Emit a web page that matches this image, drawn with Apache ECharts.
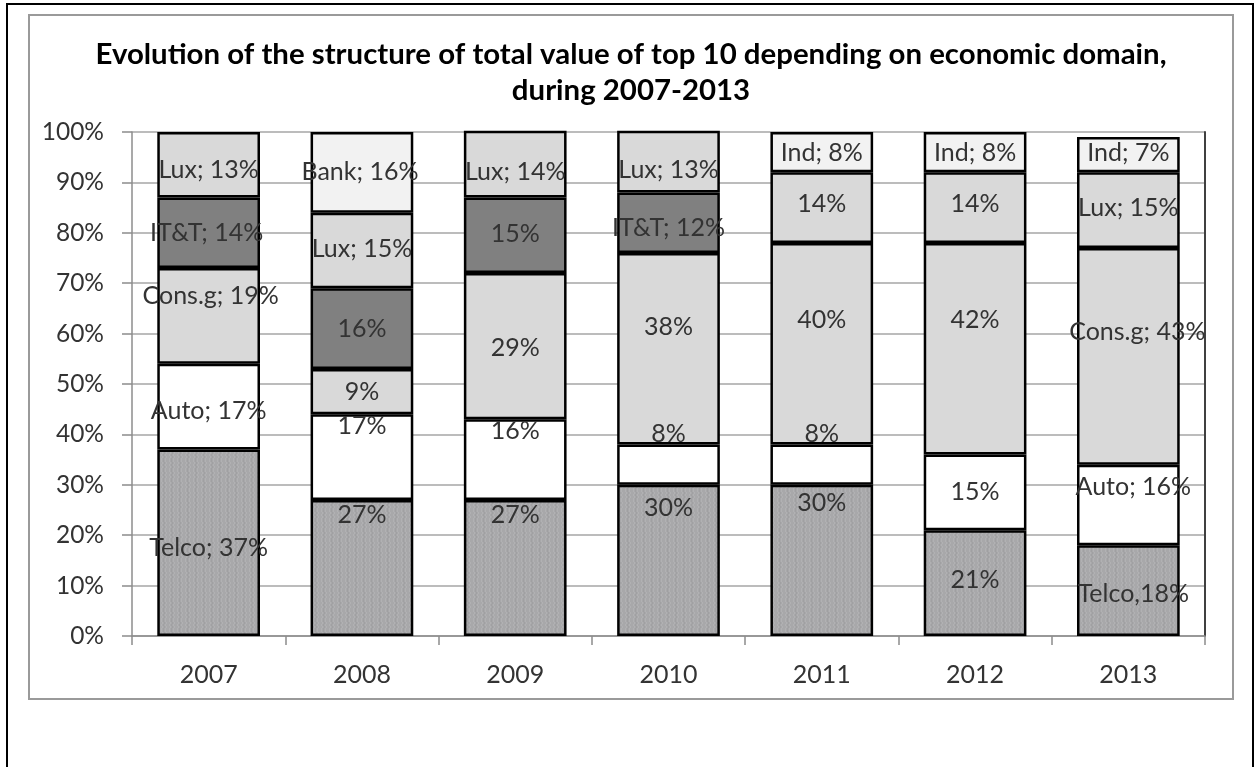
<!DOCTYPE html>
<html>
<head>
<meta charset="utf-8">
<title>Top 10 value structure by economic domain, 2007-2013</title>
<script src="https://cdn.jsdelivr.net/npm/echarts@6/dist/echarts.min.js"></script>
<style>
  html, body { margin: 0; padding: 0; background: #ffffff; }
  #chart { width: 1255px; height: 767px; }
</style>
</head>
<body>
<div id="chart"></div>
<script>
// ---- data (share of total value, %) ----
const years = ['2007', '2008', '2009', '2010', '2011', '2012', '2013'];

const telco = [37, 27, 27, 30, 30, 21, 18];
const auto  = [17, 17, 16, 8, 8, 15, 16];
const consG = [19, 9, 29, 38, 40, 42, 43];
const itt   = [14, 16, 15, 12, null, null, null];
const lux   = [13, 15, 14, 13, 14, 14, 15];
const bank  = [null, 16, null, null, null, null, null];
const ind   = [null, null, null, null, 8, 8, 7];

// text written before the percentage in each data label
const telcoTag = ['Telco; ', '', '', '', '', '', 'Telco,'];
const autoTag  = ['Auto; ', '', '', '', '', '', 'Auto; '];
const consTag  = ['Cons.g; ', '', '', '', '', '', 'Cons.g; '];
const ittTag   = ['IT&T; ', '', '', 'IT&T; ', '', '', ''];
const luxTag   = ['Lux; ', 'Lux; ', 'Lux; ', 'Lux; ', '', '', 'Lux; '];
const bankTag  = ['', 'Bank; ', '', '', '', '', ''];
const indTag   = ['', '', '', '', 'Ind; ', 'Ind; ', 'Ind; '];

const yTicks = [0, 10, 20, 30, 40, 50, 60, 70, 80, 90, 100];

// ---- label placement tweaks [dx, dy] (hand-moved labels) ----
const nudge = {
  telco: [[0, 5], [0, -53], [0, -53], [0, -52], [0, -57], [0, -3], [5, 3]],
  auto:  [[0, 4], [0, -31], [0, -29], [0, -31], [0, -31], [0, 0], [5, -18]],
  consG: [[2, -20], [0, 0], [0, 2], [0, -22], [0, -24], [0, -29], [9, -24]],
  itt:   [[-2, 0], [0, 0], [0, -1], [0, 5], [0, 0], [0, 0], [0, 0]],
  lux:   [[0, 5], [0, -2], [0, 8], [0, 8], [0, -4], [0, -4], [0, -2]],
  bank:  [[0, 0], [-2, 0], [0, 0], [0, 0], [0, 0], [0, 0], [0, 0]],
  ind:   [[0, 0], [0, 0], [0, 0], [0, 0], [0, 1], [0, 1], [0, -2]]
};

// fine vertical streak texture used for the Telco segments
function makeTexture() {
  const c = document.createElement('canvas');
  c.width = 8; c.height = 10;
  const g = c.getContext('2d');
  g.fillStyle = '#a8a8aa';
  g.fillRect(0, 0, 8, 10);
  g.fillStyle = '#b1b1b3';
  for (let y = 0; y < 10; y++) {
    const x = (y % 4 < 2) ? 1 : 2;
    g.fillRect(x, y, 1, 1);
    g.fillRect(x + 4, y, 1, 1);
  }
  g.fillStyle = '#a0a0a2';
  for (let y = 0; y < 10; y++) {
    const x = (y % 4 < 2) ? 3 : 4;
    g.fillRect(x, y, 1, 1);
  }
  return c;
}

const FONT = 'Lato, "Open Sans", sans-serif';
const TEXT = '#333333';

// lower segments are layered above higher ones so that a label sitting
// on a boundary stays readable
function segment(name, values, tags, fill, shifts, layer) {
  return {
    name: name,
    type: 'bar',
    stack: 'total',
    barCategoryGap: '33%',
    z: layer,
    data: values.map((v, i) => ({
      value: v,
      label: { offset: shifts[i] }
    })),
    itemStyle: { color: fill, borderColor: '#000000', borderWidth: 2.5 },
    label: {
      show: true,
      position: 'inside',
      color: TEXT,
      fontFamily: FONT,
      fontSize: 25,
      formatter: p => (p.value == null ? '' : tags[p.dataIndex] + p.value + '%')
    },
    emphasis: { disabled: true },
    silent: true
  };
}

const chart = echarts.init(document.getElementById('chart'), null, { renderer: 'canvas' });

chart.setOption({
  animation: false,
  backgroundColor: '#ffffff',
  title: {
    text: 'Evolution of the structure of total value of top 10 depending on economic domain,\nduring 2007-2013',
    left: 631,
    top: 37,
    padding: 0,
    textAlign: 'center',
    textStyle: {
      fontFamily: FONT,
      fontWeight: 'bold',
      fontSize: 29.4,
      lineHeight: 36,
      color: '#000000'
    }
  },
  graphic: [
    { type: 'rect', shape: { x: 7, y: 4, width: 1246, height: 800 },
      style: { fill: null, stroke: '#000000', lineWidth: 2 }, silent: true, z: -10 },
    { type: 'rect', shape: { x: 29, y: 15, width: 1204, height: 684 },
      style: { fill: null, stroke: '#9a9a9a', lineWidth: 2 }, silent: true, z: -10 }
  ],
  grid: { left: 132, right: 50, top: 132, bottom: 131, containLabel: false },
  xAxis: {
    type: 'category',
    data: years,
    axisLine: { lineStyle: { color: '#8c8c8c', width: 1.5 } },
    axisTick: { show: true, length: 9, alignWithLabel: false, lineStyle: { color: '#8c8c8c', width: 1.5 } },
    axisLabel: { color: TEXT, fontFamily: FONT, fontSize: 25, margin: 26 }
  },
  yAxis: [
    {
      type: 'value',
      min: yTicks[0],
      max: yTicks[yTicks.length - 1],
      interval: 10,
      axisLine: { show: true, lineStyle: { color: '#8c8c8c', width: 1.5 } },
      axisTick: { show: true, length: 10, lineStyle: { color: '#8c8c8c', width: 1.5 } },
      axisLabel: { color: TEXT, fontFamily: FONT, fontSize: 24.5, margin: 28, formatter: v => v + '%' },
      splitLine: { show: true, lineStyle: { color: '#a6a6a6', width: 1.5 } }
    },
    {
      type: 'value',
      position: 'right',
      min: yTicks[0],
      max: yTicks[yTicks.length - 1],
      interval: 10,
      axisLine: { show: true, lineStyle: { color: '#404040', width: 2 } },
      axisTick: { show: false },
      axisLabel: { show: false },
      splitLine: { show: false }
    }
  ],
  series: [
    segment('Telco', telco, telcoTag, { image: makeTexture(), repeat: 'repeat' }, nudge.telco, 9),
    segment('Auto', auto, autoTag, '#ffffff', nudge.auto, 8),
    segment('Cons.g', consG, consTag, '#d9d9d9', nudge.consG, 7),
    segment('IT&T', itt, ittTag, '#808080', nudge.itt, 6),
    segment('Lux', lux, luxTag, '#d9d9d9', nudge.lux, 5),
    segment('Bank', bank, bankTag, '#f2f2f2', nudge.bank, 4),
    segment('Ind', ind, indTag, '#f2f2f2', nudge.ind, 3)
  ]
});
</script>
</body>
</html>
